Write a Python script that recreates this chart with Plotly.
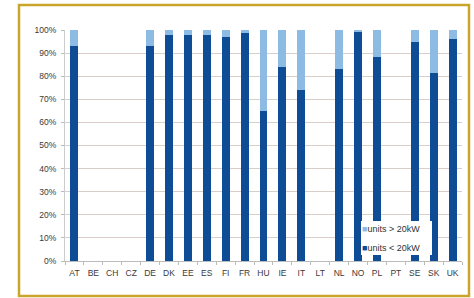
import plotly.graph_objects as go

countries = ["AT", "BE", "CH", "CZ", "DE", "DK", "EE", "ES", "FI", "FR",
             "HU", "IE", "IT", "LT", "NL", "NO", "PL", "PT", "SE", "SK", "UK"]
small_units = [93, None, None, None, 93, 98, 98, 98, 97, 98.5,
               65, 84, 74, None, 83, 99, 88.5, None, 95, 81.5, 96]
large_units = [7, None, None, None, 7, 2, 2, 2, 3, 1.5,
               35, 16, 26, None, 17, 1, 11.5, None, 5, 18.5, 4]
series_names = ["units < 20kW", "units > 20kW"]
y_ticks = [0, 10, 20, 30, 40, 50, 60, 70, 80, 90, 100]
y_tick_labels = [f"{v}%" for v in y_ticks]

DARK = "#0E4C96"
LIGHT = "#8DBBE3"

fig = go.Figure()
fig.add_trace(go.Bar(x=countries, y=small_units, name=series_names[0],
                     showlegend=False,
                     marker=dict(color=DARK, line=dict(width=0))))
fig.add_trace(go.Bar(x=countries, y=large_units, name=series_names[1],
                     showlegend=False,
                     marker=dict(color=LIGHT, line=dict(width=0))))
# legend-only entries; the swatch is drawn as a coloured square glyph in the label
for nm, col in zip(series_names, [DARK, LIGHT]):
    fig.add_trace(go.Scatter(
        x=[None], y=[None], mode="markers",
        name=f"<span style='color:{col}'>■</span>{nm}",
        marker=dict(symbol="square", size=1, color="rgba(0,0,0,0)")))

W, H = 474, 298
L, R, T, B = 65, 12, 30, 37
pw, ph = W - L - R, H - T - B

def px_x(p):
    return (p - L) / pw

def px_y(p):
    return (H - B - p) / ph

fig.update_layout(
    width=W, height=H,
    margin=dict(l=L, r=R, t=T, b=B),
    paper_bgcolor="white", plot_bgcolor="white",
    barmode="stack", bargap=0.58,
    font=dict(family="Liberation Sans, Arial, sans-serif", size=8, color="#333333"),
    showlegend=True,
    legend=dict(x=px_x(322), y=px_y(214), xanchor="left", yanchor="top",
                traceorder="reversed", bgcolor="rgba(0,0,0,0)",
                font=dict(size=9, color="#333333"),
                itemwidth=30, tracegroupgap=0),
    xaxis=dict(type="category", categoryorder="array", categoryarray=countries,
               showgrid=False, showline=True, linecolor="#bbbbbb", linewidth=1,
               ticks="outside", ticklen=3, tickcolor="#bbbbbb", tickangle=0,
               tickson="boundaries", ticklabelstandoff=4,
               tickfont=dict(size=8.5, color="#3a3a3a")),
    yaxis=dict(range=[0, 100], tickvals=y_ticks, ticktext=y_tick_labels,
               showgrid=True, gridcolor="#d9cfc8", gridwidth=1,
               zeroline=False, showline=True, linecolor="#cccccc",
               ticks="outside", ticklen=3, tickcolor="#bbbbbb",
               ticklabelstandoff=3,
               tickfont=dict(size=8.5, color="#3a3a3a")),
    shapes=[
        dict(type="rect", xref="paper", yref="paper",
             x0=px_x(19), x1=px_x(469), y0=px_y(296), y1=px_y(5),
             line=dict(color="#C9A52C", width=2.5), fillcolor="rgba(0,0,0,0)",
             layer="below"),
        dict(type="rect", xref="paper", yref="paper",
             x0=px_x(361), x1=px_x(432), y0=px_y(255), y1=px_y(221),
             line=dict(width=0), fillcolor="white", layer="above"),
    ],
)

fig.write_html("out.html", config={"displayModeBar": False},
               post_script="document.body.style.margin='0';")
